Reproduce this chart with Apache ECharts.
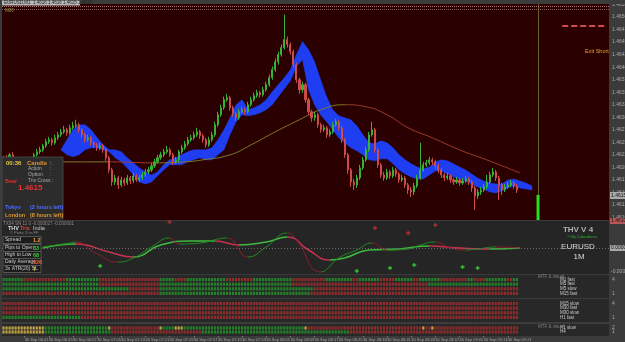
<!DOCTYPE html>
<html><head><meta charset="utf-8">
<script src="https://cdn.jsdelivr.net/npm/echarts@6/dist/echarts.min.js"></script>
<style>html,body{margin:0;padding:0;background:#3b3b3b;overflow:hidden}#c{width:625px;height:342px}</style>
</head><body><div id="c"></div><script>
// ---------------- DATA ----------------
const firstOpen = 1.46218;
const closes = [
1.46224,1.46216,1.46230,1.46220,1.46204,1.46190,1.46184,1.46196,1.46210,1.46220,
1.46230,1.46236,1.46240,1.46248,1.46256,1.46260,1.46254,1.46264,1.46270,1.46276,
1.46280,1.46274,1.46284,1.46288,1.46290,1.46280,1.46270,1.46260,1.46264,1.46254,
1.46250,1.46244,1.46248,1.46240,1.46224,1.46200,1.46176,1.46184,1.46170,1.46180,
1.46174,1.46184,1.46178,1.46188,1.46180,1.46184,1.46190,1.46196,1.46200,1.46208,
1.46216,1.46224,1.46230,1.46236,1.46240,1.46230,1.46216,1.46220,1.46236,1.46244,
1.46252,1.46260,1.46264,1.46270,1.46276,1.46268,1.46260,1.46250,1.46260,1.46270,
1.46290,1.46310,1.46324,1.46340,1.46344,1.46324,1.46312,1.46304,1.46316,1.46320,
1.46316,1.46330,1.46340,1.46348,1.46354,1.46350,1.46360,1.46370,1.46384,1.46400,
1.46416,1.46430,1.46444,1.46460,1.46450,1.46436,1.46410,1.46380,1.46360,1.46370,
1.46340,1.46316,1.46304,1.46310,1.46290,1.46280,1.46284,1.46270,1.46276,1.46290,
1.46296,1.46284,1.46260,1.46230,1.46200,1.46176,1.46170,1.46184,1.46204,1.46220,
1.46240,1.46270,1.46280,1.46240,1.46210,1.46190,1.46184,1.46196,1.46188,1.46200,
1.46192,1.46180,1.46184,1.46170,1.46160,1.46156,1.46168,1.46184,1.46200,1.46210,
1.46214,1.46220,1.46216,1.46208,1.46200,1.46190,1.46184,1.46188,1.46180,1.46176,
1.46180,1.46174,1.46178,1.46182,1.46176,1.46164,1.46148,1.46156,1.46160,1.46166,
1.46176,1.46190,1.46196,1.46184,1.46170,1.46160,1.46166,1.46170,1.46174,1.46168,
1.46160];
const highs = [
1.46228,1.46230,1.46234,1.46236,1.46224,1.46208,1.46196,1.46200,1.46214,1.46226,
1.46234,1.46242,1.46246,1.46252,1.46262,1.46266,1.46264,1.46270,1.46276,1.46282,
1.46288,1.46284,1.46290,1.46296,1.46300,1.46294,1.46284,1.46274,1.46270,1.46268,
1.46258,1.46254,1.46254,1.46252,1.46244,1.46228,1.46204,1.46190,1.46188,1.46186,
1.46184,1.46190,1.46188,1.46194,1.46192,1.46190,1.46196,1.46202,1.46206,1.46214,
1.46222,1.46230,1.46236,1.46242,1.46248,1.46244,1.46234,1.46226,1.46240,1.46250,
1.46258,1.46266,1.46270,1.46276,1.46284,1.46280,1.46272,1.46264,1.46266,1.46276,
1.46296,1.46316,1.46330,1.46346,1.46352,1.46348,1.46328,1.46316,1.46322,1.46326,
1.46324,1.46336,1.46346,1.46354,1.46360,1.46358,1.46366,1.46376,1.46390,1.46406,
1.46422,1.46436,1.46450,1.46510,1.46466,1.46454,1.46440,1.46414,1.46384,1.46376,
1.46374,1.46344,1.46320,1.46316,1.46314,1.46294,1.46290,1.46288,1.46282,1.46296,
1.46302,1.46300,1.46288,1.46264,1.46234,1.46204,1.46182,1.46190,1.46210,1.46226,
1.46246,1.46276,1.46296,1.46284,1.46244,1.46214,1.46196,1.46202,1.46200,1.46206,
1.46204,1.46196,1.46190,1.46188,1.46174,1.46166,1.46174,1.46190,1.46254,1.46216,
1.46220,1.46226,1.46224,1.46220,1.46212,1.46204,1.46194,1.46194,1.46192,1.46184,
1.46186,1.46184,1.46184,1.46188,1.46186,1.46180,1.46168,1.46162,1.46166,1.46172,
1.46190,1.46196,1.46204,1.46200,1.46188,1.46174,1.46172,1.46176,1.46180,1.46178,
1.46172];
const lows = [
1.46212,1.46210,1.46212,1.46216,1.46196,1.46184,1.46176,1.46180,1.46192,1.46206,
1.46216,1.46226,1.46232,1.46236,1.46244,1.46252,1.46248,1.46250,1.46260,1.46266,
1.46272,1.46268,1.46270,1.46280,1.46284,1.46274,1.46264,1.46254,1.46256,1.46248,
1.46244,1.46238,1.46240,1.46234,1.46218,1.46194,1.46168,1.46170,1.46162,1.46166,
1.46168,1.46170,1.46172,1.46174,1.46176,1.46176,1.46180,1.46186,1.46192,1.46196,
1.46204,1.46212,1.46220,1.46226,1.46232,1.46226,1.46210,1.46212,1.46216,1.46232,
1.46240,1.46248,1.46256,1.46260,1.46266,1.46262,1.46254,1.46244,1.46246,1.46256,
1.46266,1.46286,1.46306,1.46320,1.46336,1.46318,1.46306,1.46298,1.46300,1.46312,
1.46310,1.46312,1.46326,1.46336,1.46344,1.46344,1.46346,1.46356,1.46366,1.46380,
1.46396,1.46410,1.46426,1.46440,1.46444,1.46430,1.46404,1.46374,1.46352,1.46354,
1.46334,1.46310,1.46296,1.46298,1.46284,1.46274,1.46276,1.46264,1.46266,1.46272,
1.46286,1.46278,1.46254,1.46224,1.46192,1.46166,1.46160,1.46164,1.46180,1.46200,
1.46216,1.46236,1.46266,1.46234,1.46204,1.46184,1.46178,1.46180,1.46182,1.46184,
1.46186,1.46174,1.46176,1.46164,1.46152,1.46146,1.46150,1.46164,1.46180,1.46196,
1.46206,1.46210,1.46210,1.46202,1.46194,1.46184,1.46178,1.46180,1.46174,1.46170,
1.46172,1.46168,1.46170,1.46174,1.46170,1.46156,1.46120,1.46142,1.46150,1.46156,
1.46162,1.46172,1.46186,1.46178,1.46140,1.46150,1.46156,1.46162,1.46166,1.46162,
1.46154];
// cloud (two spans)
const cloudIdx = [19,21,23,25,27,29,31,33,35,37,39,41,43,45,47,49,51,53,55,57,59,61,63,65,67,69,71,73,75,77,79,81,83,85,87,89,91,93,95,97,99,101,103,105,107,109,111,113,115,117,119,121,123,125,127,129,131,133,135,137,139,141,143,145,147,149,151,153,155,157,159,161,163,165,167,169,171,173,175];
const cloudA = [1.46240,1.46260,1.46280,1.46290,1.46290,1.46280,1.46264,1.46250,1.46240,1.46240,
1.46236,1.46224,1.46214,1.46204,1.46196,1.46190,1.46196,1.46210,1.46220,1.46224,
1.46230,1.46236,1.46240,1.46240,1.46240,1.46244,1.46260,1.46280,1.46304,1.46330,
1.46340,1.46320,1.46324,1.46330,1.46340,1.46356,1.46370,1.46384,1.46400,1.46430,
1.46456,1.46440,1.46416,1.46380,1.46346,1.46320,1.46308,1.46304,1.46300,1.46288,
1.46270,1.46254,1.46252,1.46258,1.46254,1.46244,1.46230,1.46220,1.46212,1.46206,
1.46202,1.46206,1.46216,1.46220,1.46218,1.46212,1.46206,1.46200,1.46192,1.46184,
1.46178,1.46174,1.46172,1.46172,1.46180,1.46182,1.46178,1.46174,1.46168];
const cloudB = [1.46240,1.46230,1.46226,1.46230,1.46240,1.46244,1.46244,1.46240,1.46236,1.46224,
1.46216,1.46204,1.46190,1.46176,1.46172,1.46176,1.46188,1.46200,1.46210,1.46210,
1.46210,1.46216,1.46220,1.46224,1.46220,1.46220,1.46230,1.46240,1.46270,1.46296,
1.46310,1.46308,1.46310,1.46314,1.46320,1.46330,1.46346,1.46362,1.46378,1.46406,
1.46420,1.46360,1.46330,1.46310,1.46296,1.46280,1.46264,1.46254,1.46244,1.46238,
1.46230,1.46220,1.46218,1.46222,1.46222,1.46212,1.46200,1.46192,1.46186,1.46182,
1.46182,1.46190,1.46198,1.46198,1.46192,1.46186,1.46182,1.46178,1.46172,1.46166,
1.46162,1.46156,1.46154,1.46158,1.46164,1.46168,1.46164,1.46162,1.46160];
// long moving average
const maIdx = [0,10,20,35,50,60,66,75,82,90,98,105,113,120,127,134,142,151,160,171];
const maVal = [1.46210,1.46214,1.46216,1.46216,1.46214,1.46216,1.46220,1.46230,1.46250,1.46276,1.46300,1.46320,1.46330,1.46326,1.46310,1.46284,1.46264,1.46240,1.46220,1.46194];
// lines / levels
const levelRed = 1.46348, bidPrice = 1.46152;
const signalBar = [[177, 1.46150, 1.46100]];
const exitShortLevel = 1.46488;
// THV trix panel
const trixFastIdx = [13,22,24,30,38,43,49,55,58,65,74,81,87,94,97,105,111,117,122,127,134,138,143,148,153,157,163,171];
const trixFastVal = [0.00001,0.00005,0.00006,-0.00004,-0.00014,-0.00010,0.00001,0.00010,0.00004,0.00005,0.00010,-0.00009,0.00001,0.00015,0.00008,-0.00024,-0.00010,-0.00002,0.00005,-0.00002,-0.00001,0.00003,0.00006,0,-0.00002,-0.00001,0.00001,0];
const trixSlowIdx = [13,24,35,43,52,62,70,78,87,94,101,108,113,121,131,141,151,161,171];
const trixSlowVal = [0,0.00004,-0.00004,-0.00009,0.00003,0.00007,0.00007,0.00003,0.00006,0.00011,-0.00002,-0.00012,-0.00010,-0.00002,-0.00001,0.00002,0,-0.00001,0];
const trixUpIdx = [32,117,128,136,152,157];
const trixUpVal = [-0.00018,-0.00023,-0.00020,-0.00017,-0.00019,-0.00020];
const trixDnIdx = [55,123,134,143];
const trixDnVal = [0.00026,0.00020,0.00015,0.00023];
// MTF dots (g=green, r=red, y=yellow, run-length per bar)
const mtfRows = [
 {panel:0, level:4, name:'M1 fast',  runs:'g7 r14 g11 r20 g5 r4 g13 r9 g13 r11 g9 r2 g7 r5 g6 r2 g7 r9 g2 r4 g7 r2 g2'},
 {panel:0, level:3, name:'M5 fast',  runs:'g32 r20 g44 r45 g30'},
 {panel:0, level:2, name:'M5 slow',  runs:'g42 r10 g51 r68'},
 {panel:0, level:1, name:'M15 fast', runs:'r52 g50 r69'},
 {panel:1, level:4, name:'M15 slow', runs:'r171'},
 {panel:1, level:3, name:'M30 fast', runs:'r171'},
 {panel:1, level:2, name:'M30 slow', runs:'r171'},
 {panel:1, level:1, name:'H1 fast',  runs:'g26 r145'},
 {panel:2, level:2, name:'H1 slow',  runs:'y14 g21 y1 r16 y1 g4 y3 g40 y1 r38 y1 r2 y1 r28'},
 {panel:2, level:1, name:'H4',       runs:'y14 g22 r30 g49 r56'}
];
const N = 201;
const startMinute = 6*60+34;
const categories = [];
for (let i=0;i<N;i++){const m=startMinute+i;categories.push(String(Math.floor(m/60)).padStart(2,'0')+':'+String(m%60).padStart(2,'0'));}

// ---------------- BUILD ----------------
const candleData = closes.map((c,i)=>[i?closes[i-1]:firstOpen, c, lows[i], highs[i]]);
function slopePieces(idx,val,up,dn){
  const p=[];
  for(let k=0;k<idx.length-1;k++){p.push({gte:idx[k], lt:idx[k+1], color: val[k+1]>=val[k]?up:dn});}
  const last=p[p.length-1]; last.lte=N; delete last.lt;
  p[0].gte=-1;
  return p;
}
function expand(s){const o=[];s.trim().split(/\s+/).forEach(t=>{const n=+t.slice(1);for(let j=0;j<n;j++)o.push(t[0]);});return o;}
const FONT='Liberation Sans';
const gridBase={left:2,width:607,show:true,borderWidth:0,containLabel:false,outerBoundsMode:'none'};
const grids=[
  Object.assign({top:4,height:216,backgroundColor:'#2a0000'},gridBase),
  Object.assign({top:221,height:53,backgroundColor:'#252525'},gridBase),
  Object.assign({top:275,height:23,backgroundColor:'#282828'},gridBase),
  Object.assign({top:299,height:23,backgroundColor:'#282828'},gridBase),
  Object.assign({top:324,height:12,backgroundColor:'#282828'},gridBase)
];
const xAxes=[];
for(let k=0;k<5;k++){
  xAxes.push({type:'category',gridIndex:k,data:categories,boundaryGap:true,
    axisLine:{show:false},splitLine:{show:false},
    axisTick: k===4 ? {show:true,length:1.5,lineStyle:{color:'#777'},interval:(idx)=> idx===0 || (idx>=7 && idx<=167 && (idx-7)%8===0),alignWithLabel:true} : {show:false},
    axisLabel: k===4 ? {show:true,fontSize:4,fontFamily:FONT,color:'#a4a4a4',align:'left',margin:1.5,hideOverlap:false,
      interval:(idx)=> idx===0 || (idx>=7 && idx<=167 && (idx-7)%8===0),
      formatter:(v,idx)=> idx===0?'30 Sep 2009':'30 Sep '+v} : {show:false}});
  xAxes.push({type:'value',gridIndex:k,min:-0.5,max:N-0.5,show:false});
}
const lblStyle={fontSize:5,fontFamily:FONT,color:'#a8a8a8',margin:3};
const yAxes=[
  {type:'value',gridIndex:0,position:'right',min:1.461,max:1.46531,interval:0.00025,scale:true,
   axisLine:{show:false},axisTick:{show:false},splitLine:{show:false},
   axisLabel:Object.assign({formatter:v=>v.toFixed(5),verticalAlign:'bottom'},lblStyle)},
  {type:'value',gridIndex:1,position:'right',min:-0.00026,max:0.00027,show:false},
  {type:'value',gridIndex:2,position:'right',min:0,max:5,interval:1,axisLine:{show:false},axisTick:{show:false},splitLine:{show:false},
   axisLabel:Object.assign({formatter:v=>(v===4||v===1)?String(v):''},lblStyle)},
  {type:'value',gridIndex:3,position:'right',min:0,max:5,interval:1,axisLine:{show:false},axisTick:{show:false},splitLine:{show:false},
   axisLabel:Object.assign({formatter:v=>(v===4||v===1)?String(v):''},lblStyle)},
  {type:'value',gridIndex:4,position:'right',min:0,max:3,interval:1,axisLine:{show:false},axisTick:{show:false},splitLine:{show:false},
   axisLabel:Object.assign({formatter:v=>(v===2||v===1)?String(v):''},lblStyle)}
];
const series=[];
// cloud
series.push({type:'custom',name:'cloud',xAxisIndex:1,yAxisIndex:0,z:2,silent:true,data:[0],
  renderItem:(params,api)=>{
    const pts=[];
    for(let k=0;k<cloudIdx.length;k++)pts.push(api.coord([cloudIdx[k],cloudA[k]]));
    for(let k=cloudIdx.length-1;k>=0;k--)pts.push(api.coord([cloudIdx[k],cloudB[k]]));
    return {type:'polygon',shape:{points:pts},style:{fill:'#1f3ef2',stroke:'#1f3ef2',lineWidth:0.5}};
  }});
// MA
series.push({type:'line',name:'ma',xAxisIndex:1,yAxisIndex:0,z:3,smooth:true,symbol:'none',silent:true,
  data:maIdx.map((x,k)=>[x,maVal[k]]),lineStyle:{width:1}});
const maSeriesIndex=series.length-1;
// candles
series.push({type:'candlestick',name:'EURUSD',xAxisIndex:0,yAxisIndex:0,z:4,barWidth:1.6,data:candleData,silent:true,
  itemStyle:{color:'#35b335',color0:'#cc4c4c',borderColor:'#35b335',borderColor0:'#cc4c4c',borderWidth:1},
  markLine:{symbol:'none',silent:true,label:{show:false},animation:false,data:[
    {yAxis:levelRed,lineStyle:{color:'#7e2626',width:1,type:'solid'}},
    {yAxis:bidPrice,lineStyle:{color:'#6e6060',width:1,type:'solid'}},
    {xAxis:categories[177],lineStyle:{color:'#66622a',width:1,type:'solid'}},
    [{coord:[categories[185],exitShortLevel]},{coord:[categories[199],exitShortLevel],lineStyle:{color:'#d04a4a',width:2,type:[6,3]}}]
  ]}});
// signal bar
series.push({type:'custom',name:'signal',xAxisIndex:1,yAxisIndex:0,z:5,silent:true,data:signalBar,
  renderItem:(params,api)=>{
    const a=api.coord([api.value(0),api.value(1)]),b=api.coord([api.value(0),api.value(2)]);
    return {type:'rect',shape:{x:a[0]-1.5,y:a[1],width:3,height:b[1]-a[1]},style:{fill:'#22e022'}};
  }});
// trix lines
series.push({type:'line',name:'trixSlow',xAxisIndex:3,yAxisIndex:1,smooth:true,symbol:'none',silent:true,z:3,
  data:trixSlowIdx.map((x,k)=>[x,trixSlowVal[k]]),lineStyle:{width:1.5},
  markLine:{symbol:'none',silent:true,label:{show:false},data:[{yAxis:0,lineStyle:{color:'#6a6a6a',width:1,type:[1,2]}}]}});
const slowIdx=series.length-1;
series.push({type:'line',name:'trixFast',xAxisIndex:3,yAxisIndex:1,smooth:true,symbol:'none',silent:true,z:4,
  data:trixFastIdx.map((x,k)=>[x,trixFastVal[k]]),lineStyle:{width:1}});
const fastIdx=series.length-1;
const plusPath='path://M2,0H4V2H6V4H4V6H2V4H0V2H2Z';
series.push({type:'scatter',name:'trixUp',xAxisIndex:3,yAxisIndex:1,symbol:plusPath,symbolSize:4,silent:true,z:5,
  itemStyle:{color:'#3ce03c'},data:trixUpIdx.map((x,k)=>[x,trixUpVal[k]])});
series.push({type:'scatter',name:'trixDn',xAxisIndex:3,yAxisIndex:1,symbol:plusPath,symbolSize:4,silent:true,z:5,
  itemStyle:{color:'#d83030'},data:trixDnIdx.map((x,k)=>[x,trixDnVal[k]])});
// MTF dots
const dotColors={g:'#23962a',r:'#a82c2c',y:'#e6c24c'};
[0,1,2].forEach(p=>{
  ['g','r','y'].forEach(c=>{
    const d=[];
    mtfRows.filter(r=>r.panel===p).forEach(r=>{expand(r.runs).forEach((ch,i)=>{if(ch===c)d.push([i,r.level]);});});
    if(d.length)series.push({type:'scatter',xAxisIndex:2*(p+2)+1,yAxisIndex:p+2,symbol:'rect',symbolSize:[2.2,3.2],silent:true,
      itemStyle:{color:dotColors[c]},data:d});
  });
});

// ---------------- TEXT OVERLAYS ----------------
function T(text,x,y,fill,size,weight,align){
  return {type:'text',z:120,silent:true,style:{text:text,x:x,y:y,fill:fill,fontSize:size||6,fontFamily:FONT,fontWeight:weight||'normal',
    align:align||'left',verticalAlign:'middle'}};
}
function R(x,y,w,h,fill,stroke){return {type:'rect',z:110,silent:true,shape:{x:x,y:y,width:w,height:h},style:{fill:fill,stroke:stroke||null,lineWidth:1}};}
const g=[];
// top bar
g.push(R(0,0,625,4,'#3b3b3b'));
g.push(R(2,0.5,78,5,'#b8b8b8'));
g.push(T('EURUSD,M1  1.4616 1.4616 1.4615 1.4615',4,3,'#202020',4.5));
g.push({type:'line',z:111,silent:true,shape:{x1:2,y1:6.5,x2:609,y2:6.5},style:{stroke:'#b07474',lineWidth:1,lineDash:[1,1]}});
g.push({type:'line',z:111,silent:true,shape:{x1:2,y1:9.5,x2:609,y2:9.5},style:{stroke:'#8a5a5a',lineWidth:1,lineDash:[1,1]}});
g.push(T('M00',5,11,'#8e9a40',4.5));
g.push(T('Exit Short',585,51,'#e8a030',5.5));
// info box
g.push(R(2,157,61,62,'#2c2c2c','#444'));
g.push(T('00:36',6,163,'#e8c440',6,'bold'));
g.push(T('Candle',27,163,'#e0962c',6,'bold'));
g.push(T(':',50,163,'#cfcfcf',6));
g.push(T('Action',28,169,'#a8a8a8',5));
g.push(T('Option',28,175,'#a8a8a8',5));
g.push(T('Trix Cross',28,181,'#a8a8a8',5));
g.push(T(':',50,169,'#a8a8a8',5));g.push(T(':',50,175,'#a8a8a8',5));g.push(T(':',52,181,'#a8a8a8',5));
g.push(T('Bear',5,181,'#e02c2c',5.5,'bold'));
g.push(T('1.4615',18,188,'#ee3030',8,'bold'));
g.push(T('Tokyo',5,207,'#4f6cff',5.5,'bold'));
g.push(T('(2 hours left)',30,207,'#4f6cff',5.5,'bold'));
g.push(T('London',5,215,'#e0962c',5.5,'bold'));
g.push(T('(8 hours left)',30,215,'#e0962c',5.5,'bold'));
// bid label on price axis
g.push(R(610,192,15,7,'#a9a9a9'));
g.push(T('1.46152',611,195.5,'#101010',5));
g.push(R(610,218,15,6,'#b85858'));
g.push(T('1.46100',611,221,'#101010',5));
// trix panel texts
g.push(T('TX04 SN 11 0 -0.000027 -0.000001',3,224,'#8a8a8a',4.5));
g.push(T('THV',8,228.5,'#d8d8d8',5.5,'bold'));
g.push(T('Trix',20,228.5,'#e04040',5.5,'bold'));
g.push(T('India',33,228.5,'#c8c8c8',5.5));
g.push(T('\u00a9 Patric D in FF',10,233,'#8a8a8a',4));
const boxes=[['Spread','1.2','#f0a030',240],['Pips to Open','33','#3ccc3c',248],['High to Low','68','#3ccc3c',255],['Daily Average','126','#ee6a3a',262],['3x ATR(20) SL','7','#f0c030',269]];
boxes.forEach(b=>{g.push(R(3,b[3]-3.5,38,7,'#1c1c1c','#555'));g.push(T(b[0],5,b[3],'#c8c8c8',5));g.push(T(b[1],33,b[3],b[2],5.5,'bold'));});
g.push(T('THV V 4',578,230,'#b0b0b0',8,'bold','center'));
g.push(T('\u00a9 By Cobraforex',582,236.5,'#2fae2f',4,'normal','center'));
g.push(T('EURUSD',578,247,'#dcdcdc',8,'normal','center'));
g.push(T('1M',579,257,'#dcdcdc',8,'normal','center'));
g.push(R(610,245,15,6,'#a9a9a9'));
g.push(T('0.0000',611,248,'#101010',5));
g.push(T('-0.0003',611,272,'#a8a8a8',5));
// MTF labels
g.push(T('MTF & visual',538,277,'#808080',4.5));
mtfRows.forEach(r=>{
  const top=[275,299,324][r.panel], h=[23,23,12][r.panel], mx=[5,5,3][r.panel];
  const y=top+h*(1-r.level/mx);
  g.push(T(r.name,560,y,'#c8c8c8',4.5));
});
g.push(T('MTF & visual',538,327,'#808080',4.5));

const option={animation:false,backgroundColor:'#3b3b3b',grid:grids,xAxis:xAxes,yAxis:yAxes,series:series,graphic:g,
  visualMap:[
    {type:'piecewise',show:false,seriesIndex:maSeriesIndex,dimension:0,pieces:slopePieces(maIdx,maVal,'#7c7a2a','#9c3a2c')},
    {type:'piecewise',show:false,seriesIndex:slowIdx,dimension:0,pieces:slopePieces(trixSlowIdx,trixSlowVal,'#3fb83f','#c8304e')},
    {type:'piecewise',show:false,seriesIndex:fastIdx,dimension:0,pieces:slopePieces(trixFastIdx,trixFastVal,'#1f8a1f','#8c1c2a')}
  ]};
const chart=echarts.init(document.getElementById('c'),null,{renderer:'canvas',width:625,height:342});
chart.setOption(option);
</script></body></html>
